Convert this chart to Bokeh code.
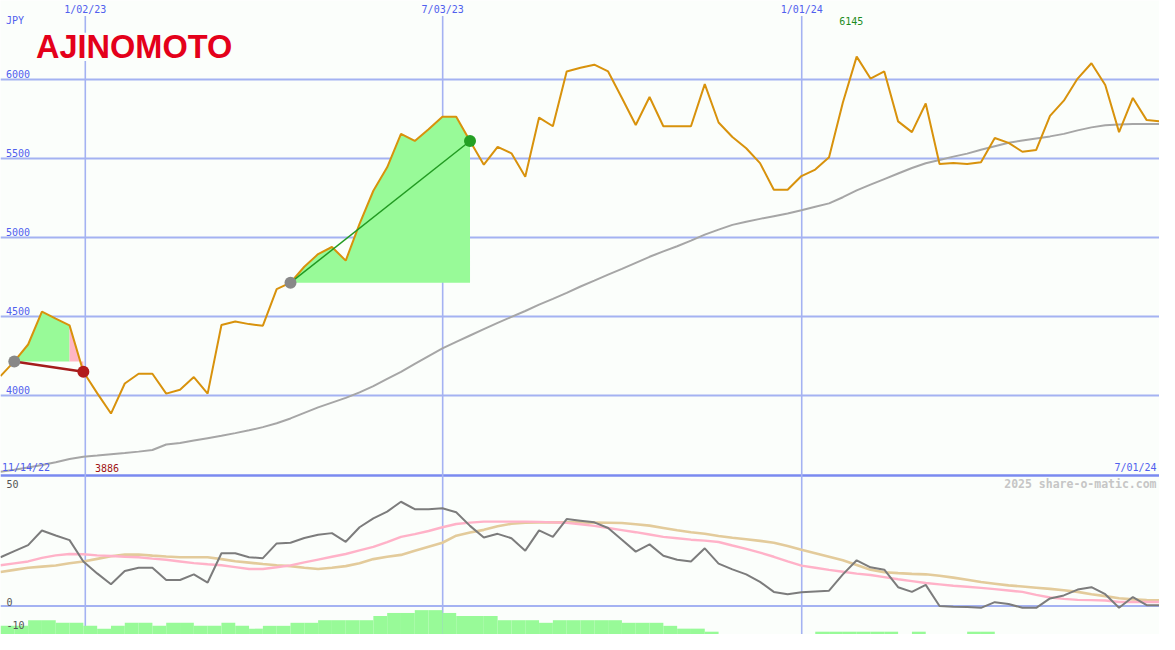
from bokeh.plotting import figure
from bokeh.models import Range1d, Span, Label, BoxAnnotation
from bokeh.embed import file_html
from bokeh.resources import INLINE

# ---------------- data ----------------
weeks = list(range(1, 86))

price = [4123, 4216, 4323, 4531, 4487, 4444, 4150, 4015, 3886, 4076,
         4138, 4138, 4012, 4037, 4117, 4012, 4446, 4469, 4452, 4442,
         4673, 4714, 4815, 4895, 4940, 4854, 5086, 5296, 5444, 5656,
         5611, 5685, 5765, 5765, 5611, 5461, 5574, 5533, 5385, 5759,
         5704, 6051, 6074, 6094, 6051, 5883, 5712, 5889, 5704, 5704,
         5704, 5971, 5728, 5636, 5565, 5471, 5302, 5302, 5389, 5430,
         5508, 5854, 6145, 6006, 6051, 5735, 5667, 5848, 5465, 5471,
         5465, 5477, 5630, 5599, 5543, 5554, 5770, 5866, 6006, 6103,
         5965, 5667, 5883, 5743, 5735]

moving_avg = [3517, 3530, 3545, 3560, 3578, 3598, 3613, 3620, 3628, 3636,
              3645, 3655, 3690, 3700, 3715, 3730, 3745, 3762, 3780, 3800,
              3825, 3855, 3890, 3925, 3955, 3985, 4020, 4060, 4105, 4150,
              4200, 4250, 4298, 4340, 4380, 4420, 4460, 4498, 4535, 4575,
              4612, 4650, 4690, 4727, 4765, 4802, 4840, 4878, 4912, 4945,
              4980, 5018, 5050, 5080, 5100, 5118, 5135, 5152, 5173, 5195,
              5216, 5255, 5298, 5335, 5370, 5405, 5440, 5470, 5490, 5512,
              5531, 5555, 5578, 5600, 5614, 5627, 5640, 5656, 5678, 5697,
              5710, 5716, 5718, 5718, 5718]

osc_gray = [20.8, 23.4, 26.0, 32.2, 30.1, 28.1, 19.0, 13.9, 9.3, 14.9,
            16.3, 16.3, 11.1, 11.1, 13.5, 10.0, 22.5, 22.5, 20.8, 20.4,
            26.7, 27.0, 29.0, 30.4, 31.1, 27.4, 33.6, 37.4, 40.3, 44.5,
            41.3, 41.3, 41.7, 40.0, 34.2, 29.2, 30.8, 28.9, 23.6, 32.3,
            29.5, 37.1, 36.4, 35.7, 33.3, 28.3, 23.2, 26.3, 21.4, 19.7,
            19.0, 24.6, 18.1, 15.6, 13.5, 10.3, 6.0, 5.0, 5.8, 6.2,
            6.5, 13.5, 19.5, 16.5, 15.5, 8.0, 6.0, 9.0, 0.0, -0.3,
            -0.5, -0.8, 1.6, 0.8, -0.8, -0.8, 3.2, 4.5, 7.0, 8.0,
            5.0, -0.8, 3.8, 0.3, 0.3]

osc_pink = [17.4, 18.2, 19.0, 20.5, 21.6, 22.2, 22.1, 21.6, 21.3, 21.0,
            20.8, 20.2, 19.7, 19.0, 18.3, 17.8, 17.4, 16.6, 15.8, 15.8,
            16.5, 17.3, 18.6, 19.8, 21.0, 22.2, 23.7, 25.2, 27.3, 29.5,
            30.7, 32.0, 33.6, 35.0, 35.6, 36.0, 36.0, 36.0, 36.0, 35.9,
            35.7, 35.5, 34.9, 34.2, 33.3, 32.4, 31.5, 30.5, 29.5, 28.9,
            28.3, 27.9, 27.3, 25.8, 24.4, 22.8, 21.0, 19.0, 17.2, 16.3,
            15.4, 14.6, 13.8, 13.2, 12.3, 11.4, 10.6, 9.8, 9.2, 8.6,
            8.2, 7.7, 7.2, 6.6, 6.0, 4.7, 3.6, 3.0, 2.6, 2.5,
            2.3, 1.7, 1.7, 1.7, 1.7]

osc_tan = [14.5, 15.4, 16.3, 16.8, 17.3, 18.2, 19.0, 20.1, 21.2, 21.9,
           22.0, 21.5, 21.1, 20.8, 20.8, 20.8, 20.0, 19.1, 18.5, 17.9,
           17.4, 17.0, 16.3, 15.8, 16.3, 17.0, 18.2, 20.0, 21.0, 21.8,
           23.6, 25.3, 27.0, 30.0, 31.4, 32.5, 34.0, 35.1, 35.5, 35.7,
           35.7, 35.7, 35.7, 35.6, 35.5, 35.4, 34.9, 34.3, 33.3, 32.3,
           31.5, 30.8, 29.9, 29.1, 28.5, 27.8, 27.0, 25.6, 24.0, 22.5,
           21.0, 19.5, 17.5, 15.5, 14.4, 14.0, 13.7, 13.5, 12.9, 12.1,
           11.2, 10.2, 9.5, 8.8, 8.3, 7.8, 7.3, 6.7, 6.0, 5.0,
           4.2, 3.3, 2.8, 2.5, 2.4]

# one bar per week interval (week w -> w+1); None = no bar
hist = [-8.5, -8.5, -6.1, -6.1, -7.2, -7.2, -8.5, -9.7, -8.5, -7.2,
        -7.2, -8.5, -7.2, -7.2, -8.5, -8.5, -7.2, -8.5, -9.7, -8.5,
        -8.5, -7.2, -7.2, -6.1, -6.1, -6.1, -6.1, -4.3, -3.0, -3.0,
        -1.8, -1.8, -3.0, -4.3, -4.3, -4.3, -6.1, -6.1, -6.1, -7.2,
        -6.1, -6.1, -6.1, -6.1, -6.1, -7.2, -7.2, -7.2, -8.5, -9.7,
        -9.7, -11.0, None, None, None, None, None, None, None, -11.0,
        -11.0, -11.0, -11.0, -11.0, -11.0, None, -11.0, None, None, None,
        -11.0, -11.0, None, None, None, None, None, None, None, None,
        None, None, None, None]

trade_entry = [2, 22]
trade_exit = [7, 35]

price_ticks = [4000, 4500, 5000, 5500, 6000]
price_tick_labels = ["4000", "4500", "5000", "5500", "6000"]
date_pos = [7.14, 33.02, 59.02]
date_labels = ["1/02/23", "7/03/23", "1/01/24"]
osc_ticks = [50, 0, -10]
osc_tick_labels = ["50", "0", "-10"]
start_label = "11/14/22"
end_label = "7/01/24"
currency = "JPY"
company = "AJINOMOTO"
credit = "2025 share-o-matic.com"

# ---------------- layout / style ----------------
W, H = 1159, 634
REF_W, REF_H = 1175, 650
kx, ky = W / REF_W, H / REF_H
X0, X1 = 1.0, 1.0 + REF_W / 14.0
PY0, PY1 = 2487.65, 6500.0
OY0, OY1 = -12.2, 258.6

BG = "#fbfefb"
GRID = "#a4b2f2"
SEP = "#7a8af0"
BLUE_TXT = "#5060ee"
FONT = "DejaVu Sans Mono"


def sx_w(w):
    return (w - X0) / (X1 - X0) * W


def sy_p(p):
    return (p - PY0) / (PY1 - PY0) * H


def sy_o(v):
    return (v - OY0) / (OY1 - OY0) * H


def sy_ref(y):
    return H - y * ky


p = figure(width=W, height=H, x_range=Range1d(X0, X1), y_range=Range1d(PY0, PY1),
           output_backend="svg", toolbar_location=None, tools="",
           x_axis_location=None, y_axis_location=None, min_border=0,
           background_fill_color=BG, border_fill_color=BG, outline_line_color=None)
p.extra_y_ranges = {"osc": Range1d(OY0, OY1)}
p.grid.visible = False

# grid lines
for t in price_ticks:
    p.add_layout(Span(location=t, dimension="width", line_color=GRID, line_width=2, level="underlay"))
p.add_layout(Span(location=0, dimension="width", y_range_name="osc", line_color=GRID,
                  line_width=2, level="underlay"))
line_top = PY1 - 16 / REF_H * (PY1 - PY0)
p.segment(x0=date_pos, x1=date_pos, y0=[PY0] * len(date_pos), y1=[line_top] * len(date_pos),
          line_color=GRID, line_width=1.6)
# panel separator
sep_price = PY1 - 487 / REF_H * (PY1 - PY0)
p.add_layout(Span(location=sep_price, dimension="width", line_color=SEP, line_width=2.4, level="underlay"))

# histogram (bottom panel)
hx = [w + 0.5 for w, v in zip(weeks[:-1], hist) if v is not None]
htop = [v for v in hist if v is not None]
p.vbar(x=hx, width=1.0, top=htop, bottom=OY0 - 1, y_range_name="osc",
       fill_color="#98fa98", line_color=None)

# oscillators
p.line(weeks, osc_tan, y_range_name="osc", line_color="#e3cb9b", line_width=2.6)
p.line(weeks, osc_pink, y_range_name="osc", line_color="#ffb2c8", line_width=2.4)
p.line(weeks, osc_gray, y_range_name="osc", line_color="#7c7c7c", line_width=2)

# trade fills
for e, x in zip(trade_entry, trade_exit):
    ep = price[e - 1]
    xp = price[x - 1]
    last_green = x - 1 if xp < ep else x
    xs = weeks[e - 1:last_green]
    p.varea(x=xs, y1=[ep] * len(xs), y2=price[e - 1:last_green], fill_color="#98fa98")
    if xp < ep:
        xs2 = weeks[x - 2:x]
        p.varea(x=xs2, y1=[ep] * 2, y2=price[x - 2:x], fill_color="#ffb6c4")

# moving average & price
p.line(weeks, moving_avg, line_color="#a6a6a6", line_width=2)
p.line(weeks, price, line_color="#d8920c", line_width=2)

# trade lines and markers
for e, x in zip(trade_entry, trade_exit):
    ep = price[e - 1]
    xp = price[x - 1]
    win = xp >= ep
    p.line([e, x], [ep, xp], line_color="#229a22" if win else "#a41c1c",
           line_width=1.5 if win else 2.5)
    p.scatter([e], [ep], size=12, fill_color="#888888", line_color=None)
    p.scatter([x], [xp], size=12, fill_color="#24a024" if win else "#b21c1c", line_color=None)

# opaque backing of the logo (hides the date line behind it)
p.add_layout(BoxAnnotation(left=34 * kx, right=236 * kx, top=sy_ref(33), bottom=sy_ref(62),
                           left_units="screen", right_units="screen",
                           top_units="screen", bottom_units="screen",
                           fill_color=BG, fill_alpha=1.0, line_color=None))


# ---------------- texts (y = visual centre of the text) ----------------
def lab(text, x, y, color, align="left", size="10px", style="normal", font=FONT):
    p.add_layout(Label(x=x, y=y, x_units="screen", y_units="screen", text=text,
                       text_color=color, text_font=font, text_font_size=size,
                       text_align=align, text_baseline="middle",
                       text_font_style=style))


lab(company, 36 * kx, sy_ref(47.5), "#e4001a", size="32.5px", style="bold", font="Liberation Sans")
lab(currency, 5.5 * kx, sy_ref(21), BLUE_TXT)
for t, s in zip(price_ticks, price_tick_labels):
    lab(s, 5.5 * kx, sy_p(t) + 5.6 * ky, BLUE_TXT)
for d, s in zip(date_pos, date_labels):
    lab(s, sx_w(d), sy_ref(9), BLUE_TXT, align="center")
for t, s in zip(osc_ticks, osc_tick_labels):
    lab(s, 6 * kx, sy_o(t) + 4.5 * ky, "#555555")

lab(start_label, 1.5 * kx, sy_ref(479), BLUE_TXT)
lab(end_label, 1172 * kx, sy_ref(479), BLUE_TXT, align="right")
i_min = price.index(min(price))
i_max = price.index(max(price))
lab(str(min(price)), sx_w(weeks[i_min]) - 4 * kx, sy_ref(479), "#a01414", align="center")
lab(str(max(price)), sx_w(weeks[i_max]) - 5.5 * kx, sy_ref(21.2), "#1e8c1e", align="center")
lab(credit, 1172 * kx, sy_ref(496), "#c6c6c6", align="right", size="11.5px", style="bold")

open("out.html", "w").write(file_html(p, INLINE))
